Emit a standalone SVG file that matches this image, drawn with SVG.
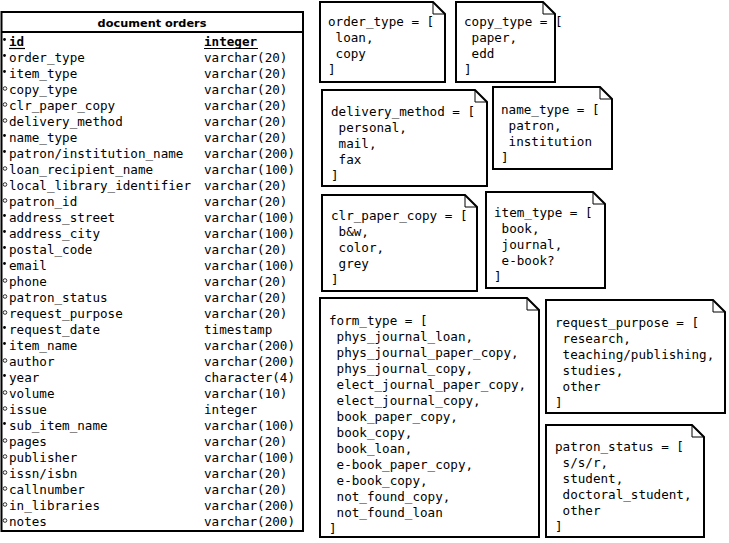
<svg xmlns="http://www.w3.org/2000/svg" width="729" height="543" viewBox="0 0 729 543">
<style>
text{font-family:"DejaVu Sans Mono","Liberation Mono",monospace;font-size:12.6px;fill:#000}
.title{font-family:"DejaVu Sans","Liberation Sans",sans-serif;font-weight:bold;font-size:11.3px}
.b{font-weight:bold}
.box{fill:#fff;stroke:#000;stroke-width:2}
.fold{fill:none;stroke:#000;stroke-width:1}
.req{fill:#000}
.opt{fill:none;stroke:#000;stroke-width:0.8}
.ul{stroke:#000;stroke-width:1.2}
</style>
<rect width="729" height="543" fill="#fff"/>
<g id="table-document-orders">
<rect class="box" x="1.5" y="12" width="301.5" height="519"/>
<line x1="1.5" y1="32" x2="303" y2="32" stroke="#000" stroke-width="2"/>
<text class="title" x="152" y="26.5" text-anchor="middle">document orders</text>
<g id="markers">
<circle class="req" cx="4.5" cy="39.5" r="1.4"/>
<circle class="req" cx="4.5" cy="55.5" r="1.4"/>
<circle class="req" cx="4.5" cy="71.5" r="1.4"/>
<circle class="opt" cx="5" cy="88.5" r="1.8"/>
<circle class="opt" cx="5" cy="104.5" r="1.8"/>
<circle class="opt" cx="5" cy="120.5" r="1.8"/>
<circle class="req" cx="4.5" cy="135.5" r="1.4"/>
<circle class="req" cx="4.5" cy="151.5" r="1.4"/>
<circle class="opt" cx="5" cy="168.5" r="1.8"/>
<circle class="opt" cx="5" cy="184.5" r="1.8"/>
<circle class="opt" cx="5" cy="200.5" r="1.8"/>
<circle class="req" cx="4.5" cy="215.5" r="1.4"/>
<circle class="req" cx="4.5" cy="231.5" r="1.4"/>
<circle class="req" cx="4.5" cy="247.5" r="1.4"/>
<circle class="req" cx="4.5" cy="263.5" r="1.4"/>
<circle class="opt" cx="5" cy="280.5" r="1.8"/>
<circle class="opt" cx="5" cy="296.5" r="1.8"/>
<circle class="opt" cx="5" cy="312.5" r="1.8"/>
<circle class="req" cx="4.5" cy="327.5" r="1.4"/>
<circle class="req" cx="4.5" cy="343.5" r="1.4"/>
<circle class="opt" cx="5" cy="360.5" r="1.8"/>
<circle class="req" cx="4.5" cy="375.5" r="1.4"/>
<circle class="opt" cx="5" cy="392.5" r="1.8"/>
<circle class="opt" cx="5" cy="408.5" r="1.8"/>
<circle class="req" cx="4.5" cy="423.5" r="1.4"/>
<circle class="opt" cx="5" cy="440.5" r="1.8"/>
<circle class="opt" cx="5" cy="456.5" r="1.8"/>
<circle class="opt" cx="5" cy="472.5" r="1.8"/>
<circle class="opt" cx="5" cy="488.5" r="1.8"/>
<circle class="opt" cx="5" cy="504.5" r="1.8"/>
<circle class="opt" cx="5" cy="520.5" r="1.8"/>
</g>
<g id="names">
<text class="b" x="9" y="45.5">id</text>
<text x="9" y="61.5">order_type</text>
<text x="9" y="77.5">item_type</text>
<text x="9" y="93.5">copy_type</text>
<text x="9" y="109.5">clr_paper_copy</text>
<text x="9" y="125.5">delivery_method</text>
<text x="9" y="141.5">name_type</text>
<text x="9" y="157.5">patron/institution_name</text>
<text x="9" y="173.5">loan_recipient_name</text>
<text x="9" y="189.5">local_library_identifier</text>
<text x="9" y="205.5">patron_id</text>
<text x="9" y="221.5">address_street</text>
<text x="9" y="237.5">address_city</text>
<text x="9" y="253.5">postal_code</text>
<text x="9" y="269.5">email</text>
<text x="9" y="285.5">phone</text>
<text x="9" y="301.5">patron_status</text>
<text x="9" y="317.5">request_purpose</text>
<text x="9" y="333.5">request_date</text>
<text x="9" y="349.5">item_name</text>
<text x="9" y="365.5">author</text>
<text x="9" y="381.5">year</text>
<text x="9" y="397.5">volume</text>
<text x="9" y="413.5">issue</text>
<text x="9" y="429.5">sub_item_name</text>
<text x="9" y="445.5">pages</text>
<text x="9" y="461.5">publisher</text>
<text x="9" y="477.5">issn/isbn</text>
<text x="9" y="493.5">callnumber</text>
<text x="9" y="509.5">in_libraries</text>
<text x="9" y="525.5">notes</text>
</g>
<g id="types">
<text class="b" x="204" y="45.5">integer</text>
<text x="204" y="61.5">varchar(20)</text>
<text x="204" y="77.5">varchar(20)</text>
<text x="204" y="93.5">varchar(20)</text>
<text x="204" y="109.5">varchar(20)</text>
<text x="204" y="125.5">varchar(20)</text>
<text x="204" y="141.5">varchar(20)</text>
<text x="204" y="157.5">varchar(200)</text>
<text x="204" y="173.5">varchar(100)</text>
<text x="204" y="189.5">varchar(20)</text>
<text x="204" y="205.5">varchar(20)</text>
<text x="204" y="221.5">varchar(100)</text>
<text x="204" y="237.5">varchar(100)</text>
<text x="204" y="253.5">varchar(20)</text>
<text x="204" y="269.5">varchar(100)</text>
<text x="204" y="285.5">varchar(20)</text>
<text x="204" y="301.5">varchar(20)</text>
<text x="204" y="317.5">varchar(20)</text>
<text x="204" y="333.5">timestamp</text>
<text x="204" y="349.5">varchar(200)</text>
<text x="204" y="365.5">varchar(200)</text>
<text x="204" y="381.5">character(4)</text>
<text x="204" y="397.5">varchar(10)</text>
<text x="204" y="413.5">integer</text>
<text x="204" y="429.5">varchar(100)</text>
<text x="204" y="445.5">varchar(20)</text>
<text x="204" y="461.5">varchar(100)</text>
<text x="204" y="477.5">varchar(20)</text>
<text x="204" y="493.5">varchar(20)</text>
<text x="204" y="509.5">varchar(200)</text>
<text x="204" y="525.5">varchar(200)</text>
</g>
<line class="ul" x1="9" y1="48.5" x2="25" y2="48.5"/>
<line class="ul" x1="204" y1="48.5" x2="258" y2="48.5"/>
</g>
<g id="note-order-type">
<path class="box" d="M320,2 H433 L445,14 V82 H320 Z"/>
<path class="fold" d="M433,2 V14 H445"/>
<text x="328" y="26">order_type = [</text>
<text x="335.6" y="42">loan,</text>
<text x="335.6" y="58">copy</text>
<text x="328" y="74">]</text>
</g>
<g id="note-copy-type">
<path class="box" d="M456,2 H543 L555,14 V82 H456 Z"/>
<path class="fold" d="M543,2 V14 H555"/>
<text x="464" y="26">copy_type = [</text>
<text x="471.6" y="42">paper,</text>
<text x="471.6" y="58">edd</text>
<text x="464" y="74">]</text>
</g>
<g id="note-delivery-method">
<path class="box" d="M322,90 H475 L487,102 V186 H322 Z"/>
<path class="fold" d="M475,90 V102 H487"/>
<text x="331" y="116">delivery_method = [</text>
<text x="338.6" y="132">personal,</text>
<text x="338.6" y="148">mail,</text>
<text x="338.6" y="164">fax</text>
<text x="331" y="180">]</text>
</g>
<g id="note-name-type">
<path class="box" d="M493,87 H600 L612,99 V169 H493 Z"/>
<path class="fold" d="M600,87 V99 H612"/>
<text x="501" y="114">name_type = [</text>
<text x="508.6" y="130">patron,</text>
<text x="508.6" y="146">institution</text>
<text x="501" y="162">]</text>
</g>
<g id="note-clr-paper-copy">
<path class="box" d="M322,195 H465 L477,207 V291 H322 Z"/>
<path class="fold" d="M465,195 V207 H477"/>
<text x="331" y="220">clr_paper_copy = [</text>
<text x="338.6" y="236">b&amp;w,</text>
<text x="338.6" y="252">color,</text>
<text x="338.6" y="268">grey</text>
<text x="331" y="284">]</text>
</g>
<g id="note-item-type">
<path class="box" d="M486,192 H593 L605,204 V288 H486 Z"/>
<path class="fold" d="M593,192 V204 H605"/>
<text x="494" y="217">item_type = [</text>
<text x="501.6" y="233">book,</text>
<text x="501.6" y="249">journal,</text>
<text x="501.6" y="265">e-book?</text>
<text x="494" y="281">]</text>
</g>
<g id="note-form-type">
<path class="box" d="M320,298 H527 L539,310 V537 H320 Z"/>
<path class="fold" d="M527,298 V310 H539"/>
<text x="329" y="325">form_type = [</text>
<text x="336.6" y="341">phys_journal_loan,</text>
<text x="336.6" y="357">phys_journal_paper_copy,</text>
<text x="336.6" y="373">phys_journal_copy,</text>
<text x="336.6" y="389">elect_journal_paper_copy,</text>
<text x="336.6" y="405">elect_journal_copy,</text>
<text x="336.6" y="421">book_paper_copy,</text>
<text x="336.6" y="437">book_copy,</text>
<text x="336.6" y="453">book_loan,</text>
<text x="336.6" y="469">e-book_paper_copy,</text>
<text x="336.6" y="485">e-book_copy,</text>
<text x="336.6" y="501">not_found_copy,</text>
<text x="336.6" y="517">not_found_loan</text>
<text x="329" y="533">]</text>
</g>
<g id="note-request-purpose">
<path class="box" d="M546,300 H713 L725,312 V413 H546 Z"/>
<path class="fold" d="M713,300 V312 H725"/>
<text x="555" y="327">request_purpose = [</text>
<text x="562.6" y="343">research,</text>
<text x="562.6" y="359">teaching/publishing,</text>
<text x="562.6" y="375">studies,</text>
<text x="562.6" y="391">other</text>
<text x="555" y="407">]</text>
</g>
<g id="note-patron-status">
<path class="box" d="M546,425 H692 L704,437 V537 H546 Z"/>
<path class="fold" d="M692,425 V437 H704"/>
<text x="555" y="451">patron_status = [</text>
<text x="562.6" y="467">s/s/r,</text>
<text x="562.6" y="483">student,</text>
<text x="562.6" y="499">doctoral_student,</text>
<text x="562.6" y="515">other</text>
<text x="555" y="531">]</text>
</g>
</svg>
